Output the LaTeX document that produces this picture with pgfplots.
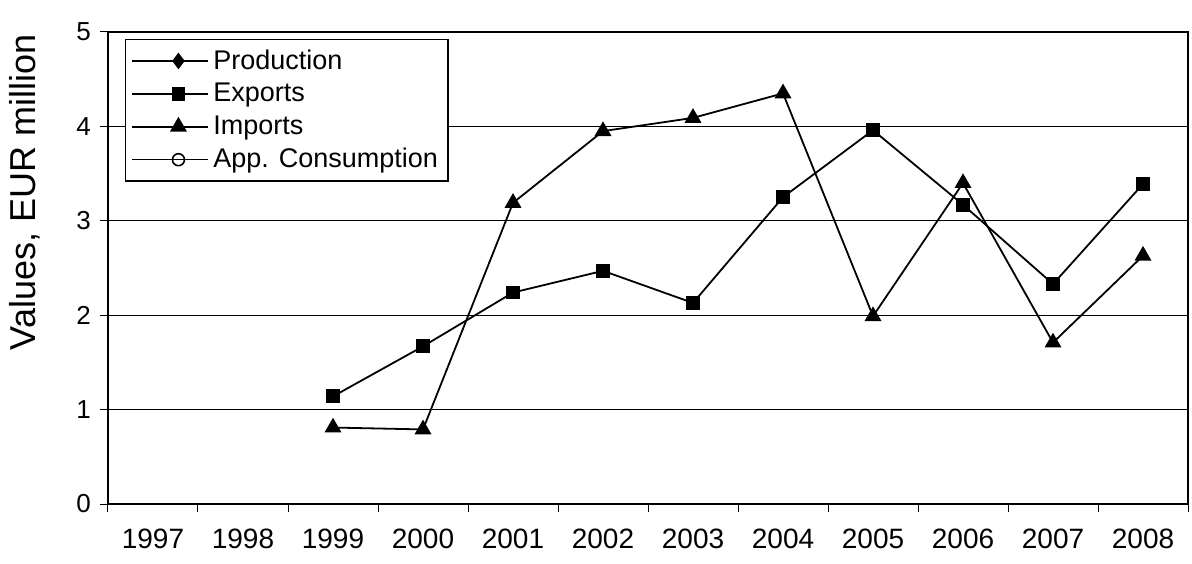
\documentclass[border=0pt]{standalone}
\usepackage{pgfplots}
\pgfplotsset{compat=1.18}
\usepackage{fontspec}
\setmainfont{Liberation Sans}

\begin{document}
\begin{tikzpicture}
\path[use as bounding box] (-54pt,-29.5pt) rectangle (542pt,252pt);
\begin{axis}[
    at={(0pt,0pt)}, anchor=south west,
    scale only axis,
    width=540pt, height=236pt,
    xmin=-0.5, xmax=11.5,
    ymin=0, ymax=5,
    xtick={-0.5,0.5,...,11.5},
    x tick label as interval,
    xticklabels={1997,1998,1999,2000,2001,2002,2003,2004,2005,2006,2007,2008},
    ytick={0,1,2,3,4,5},
    xtick pos=left, ytick pos=left,
    tick align=outside,
    major tick length=4pt,
    ymajorgrids=true,
    grid style={black, line width=0.5pt},
    axis line style={black, line width=0.6pt},
    tick style={black, line width=0.5pt},
    /pgf/number format/assume math mode=true,
    xticklabel style={font=\fontsize{14}{16}\selectfont, yshift=-5pt},
    yticklabel style={font=\fontsize{13}{15}\selectfont, xshift=-1pt},
    ylabel={Values, EUR million},
    every axis y label/.style={at={(axis description cs:-0.0769,0.66)}, rotate=90, anchor=center},
    label style={font=\fontsize{18}{20}\selectfont},
    legend style={
        at={(axis description cs:0.0157,0.985)}, anchor=north west,
        draw=black, line width=0.6pt,
        font=\fontsize{13.5}{15}\selectfont,
        row sep=1.5pt,
        inner sep=3pt,
        cells={anchor=west},
    },
    legend image code/.code={
        \path (0pt,0pt) -- (38pt,0pt);
        \draw[#1, mark repeat=2, mark phase=2] plot coordinates {(8pt,0pt) (23pt,0pt) (38pt,0pt)};
    },
]

\addlegendimage{black, line width=0.8pt, mark=diamond*, mark size=3.5pt, mark options={solid, fill=black}}
\addlegendentry{Production}

\addplot[black, line width=0.9pt, mark=square*, mark size=3pt, mark options={solid, fill=black}]
    coordinates {
    (2, 1.14) (3, 1.67) (4, 2.24) (5, 2.47) (6, 2.13)
    (7, 3.25) (8, 3.96) (9, 3.17) (10, 2.33) (11, 3.39)
    };
\addlegendentry{Exports}

\addplot[black, line width=0.9pt, mark=triangle*, mark size=4pt, mark options={solid, fill=black}]
    coordinates {
    (2, 0.81) (3, 0.79) (4, 3.19) (5, 3.95) (6, 4.09)
    (7, 4.35) (8, 1.99) (9, 3.40) (10, 1.71) (11, 2.63)
    };
\addlegendentry{Imports}

\addlegendimage{black, line width=0.8pt, mark=o, mark size=3pt, mark options={solid, fill=white}}
\addlegendentry{App. Consumption}

\end{axis}
\end{tikzpicture}
\end{document}
